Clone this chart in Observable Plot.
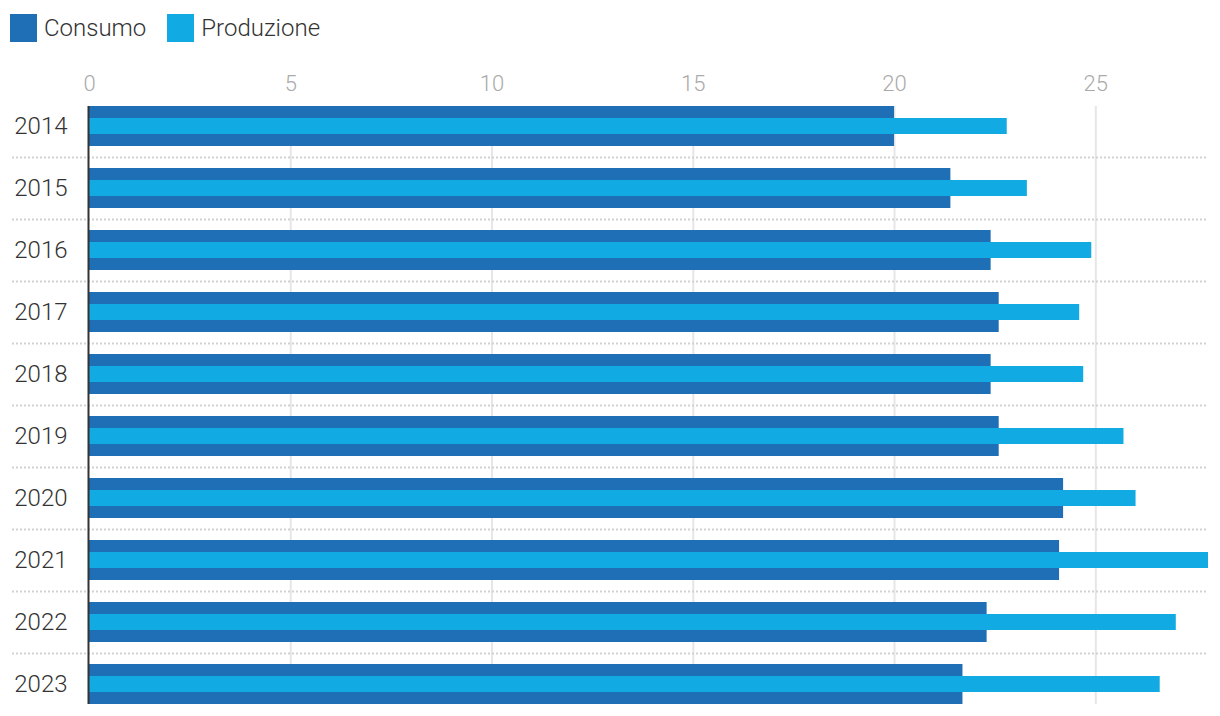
<!DOCTYPE html>
<html>
<head>
<meta charset="utf-8">
<script src="https://cdn.jsdelivr.net/npm/d3@7"></script>
<script src="https://cdn.jsdelivr.net/npm/@observablehq/plot@0.6"></script>
<style>
  html, body { margin: 0; padding: 0; background: #fff; }
  body { width: 1220px; height: 716px; overflow: hidden; font-family: Roboto, "Noto Sans", sans-serif; }
  #legend { height: 50px; display: flex; align-items: flex-start; padding-left: 10px; box-sizing: border-box; padding-top: 14px; }
  .item { display: flex; align-items: center; margin-right: 21px; }
  .sw { width: 27px; height: 28px; margin-right: 7px; }
  .lab { font-size: 24px; font-weight: 300; color: #333; line-height: 28px; }
  #chart svg { display: block; }
</style>
</head>
<body>
<div id="legend"></div>
<div id="chart"></div>
<script>
const years = ["2014","2015","2016","2017","2018","2019","2020","2021","2022","2023"];
const consumo = [20.0, 21.4, 22.4, 22.6, 22.4, 22.6, 24.2, 24.1, 22.3, 21.7];
const produzione = [22.8, 23.3, 24.9, 24.6, 24.7, 25.7, 26.0, 27.8, 27.0, 26.6];
const seriesNames = ["Consumo", "Produzione"];
const seriesColors = ["#1f6fb6", "#12aae2"];
const xTicks = [0, 5, 10, 15, 20, 25];

const rows = years.map((y, i) => ({year: y, consumo: consumo[i], produzione: produzione[i]}));

const legend = document.getElementById("legend");
seriesNames.forEach((n, i) => {
  const it = document.createElement("div");
  it.className = "item";
  it.innerHTML = `<div class="sw" style="background:${seriesColors[i]}"></div><span class="lab">${n}</span>`;
  legend.appendChild(it);
});

const chart = Plot.plot({
  width: 1220,
  height: 666,
  marginTop: 56,
  marginBottom: 12,
  marginLeft: 89,
  marginRight: 12,
  style: {fontFamily: "Roboto, 'Noto Sans', sans-serif", background: "#fff"},
  x: {domain: [0, d3.max(produzione)]},
  y: {domain: years, paddingInner: 0.355, paddingOuter: 0, align: 0.5},
  marks: [
    Plot.ruleX(xTicks.slice(1), {stroke: "#e6e6e6", strokeWidth: 2}),
    Plot.ruleY(years.slice(0, -1), {y: d => d, dy: 31, insetLeft: -77, stroke: "#d2d2d2", strokeWidth: 2, strokeDasharray: "2,2"}),
    Plot.barX(rows, {y: "year", x: "consumo", fill: seriesColors[0]}),
    Plot.barX(rows, {y: "year", x: "produzione", fill: seriesColors[1], insetTop: 12, insetBottom: 12}),
    Plot.ruleX([0], {stroke: "#333", strokeWidth: 2, dx: -1}),
    Plot.axisX({anchor: "top", ticks: xTicks, tickSize: 0, tickPadding: 16, fontSize: 22, fontWeight: 300, fill: "#aaa", label: null}),
    Plot.axisY({anchor: "left", tickSize: 0, tickPadding: 22, fontSize: 24, fontWeight: 300, fill: "#333", label: null, textAnchor: "end"})
  ]
});
document.getElementById("chart").appendChild(chart);
</script>
</body>
</html>
